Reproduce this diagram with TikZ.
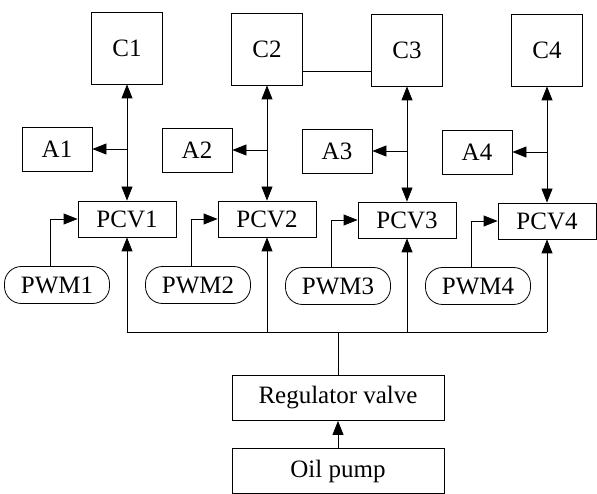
\documentclass[tikz,border=0pt]{standalone}
\usepackage{fontspec}
\setmainfont{Liberation Serif}
\usetikzlibrary{arrows.meta}

\begin{document}
\begin{tikzpicture}[x=1pt, y=-1pt, line width=0.8pt,
  >={Triangle[length=14pt, width=11pt]},
  box/.style={draw, inner sep=0pt, font=\fontsize{25}{29}\selectfont},
  cbox/.style={box, minimum width=71pt, minimum height=72pt},
  abox/.style={box, minimum width=70pt, minimum height=44pt},
  pcvbox/.style={box, minimum width=98pt, minimum height=36pt},
  pwmbox/.style={box, rounded corners=17pt, minimum width=105pt, minimum height=37pt},
  wide/.style={box, minimum width=212pt, minimum height=45pt}]
  \useasboundingbox (0,0) rectangle (597,494);
  % controllers
  \node[cbox] (c1) at (127,48) {C1};
  \node[cbox] (c2) at (267,49) {C2};
  \node[cbox] (c3) at (407,50) {C3};
  \node[cbox] (c4) at (547,50) {C4};
  \draw ([yshift=-22pt]c2.east) -- ([yshift=-22pt]c2.east -| c3.west);
  % accumulators
  \node[abox] (a1) at (57,149) {A1};
  \node[abox] (a2) at (197,150) {A2};
  \node[abox] (a3) at (337,151) {A3};
  \node[abox] (a4) at (477,152) {A4};
  % pressure control valves
  \node[pcvbox] (pcv1) at (127,219) {PCV1};
  \node[pcvbox] (pcv2) at (267,219) {PCV2};
  \node[pcvbox] (pcv3) at (407,220) {PCV3};
  \node[pcvbox] (pcv4) at (547,221) {PCV4};
  % PWM signals
  \node[pwmbox] (pwm1) at (57,285) {PWM1};
  \node[pwmbox] (pwm2) at (198,285) {PWM2};
  \node[pwmbox] (pwm3) at (338,286) {PWM3};
  \node[pwmbox] (pwm4) at (478,286) {PWM4};
  % supply
  \node[wide] (reg) at (338,398) {Regulator valve};
  \node[wide] (pump) at (338,471) {Oil pump};
  \coordinate (bus) at (338,332);
  % C <-> PCV, branch to A
  \draw[<->] (c1) -- (pcv1);
  \draw[<->] (c2) -- (pcv2);
  \draw[<->] (c3) -- (pcv3);
  \draw[<->] (c4) -- (pcv4);
  \draw[->] (c1.south |- a1.east) -- (a1.east);
  \draw[->] (c2.south |- a2.east) -- (a2.east);
  \draw[->] (c3.south |- a3.east) -- (a3.east);
  \draw[->] (c4.south |- a4.east) -- (a4.east);
  % PWM -> PCV
  \draw[->] ([xshift=-7pt]pwm1.north) |- (pcv1.west);
  \draw[->] ([xshift=-7pt]pwm2.north) |- (pcv2.west);
  \draw[->] ([xshift=-7pt]pwm3.north) |- (pcv3.west);
  \draw[->] ([xshift=-7pt]pwm4.north) |- (pcv4.west);
  % oil line
  \draw[->] (pump) -- (reg);
  \draw (reg.north) -- (bus);
  \draw (pcv1.south |- bus) -- (pcv4.south |- bus);
  \draw[->] (pcv1.south |- bus) -- (pcv1.south);
  \draw[->] (pcv2.south |- bus) -- (pcv2.south);
  \draw[->] (pcv3.south |- bus) -- (pcv3.south);
  \draw[->] (pcv4.south |- bus) -- (pcv4.south);
\end{tikzpicture}
\end{document}
